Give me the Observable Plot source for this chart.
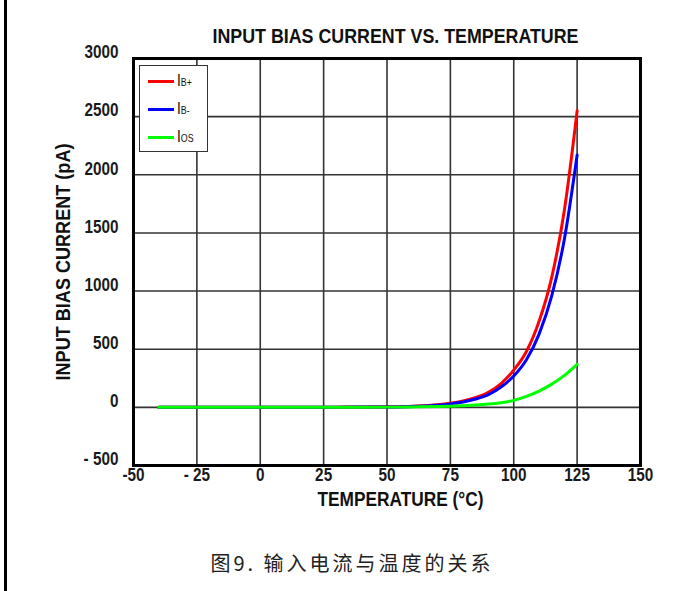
<!DOCTYPE html>
<html>
<head>
<meta charset="utf-8">
<script src="https://cdn.jsdelivr.net/npm/d3@7"></script>
<script src="https://cdn.jsdelivr.net/npm/@observablehq/plot@0.6"></script>
<style>
  html, body { margin: 0; padding: 0; background: #fff; }
  #wrap { position: relative; width: 694px; height: 591px; overflow: hidden; background: #fff; }
  #leftRule { position: absolute; left: 4px; top: 0; width: 3px; height: 591px; background: #000; }
  #chart { position: absolute; left: 0; top: 0; }
  #legend { position: absolute; left: 139px; top: 65px; width: 67px; height: 85px; border: 1.5px solid #333; background: #fff;
            font-family: 'Liberation Sans', Arial, sans-serif; color: #111; }
  .lrow { position: absolute; left: 0; height: 20px; width: 67px; }
  .lline { position: absolute; left: 8px; width: 26px; height: 3px; top: 9px; }
  .ltext { position: absolute; left: 37px; top: 0; font-size: 17px; line-height: 20px; white-space: nowrap;
           transform: scaleX(0.8); transform-origin: left center; }
  .ltext span { font-size: 11px; }
  #caption { position: absolute; left: 0; width: 704px; top: 548px; text-align: center;
             font-family: 'Noto Sans CJK SC', sans-serif; font-size: 20px; letter-spacing: 3px; color: #222; }
</style>
</head>
<body>
<div id="wrap">
  <div id="leftRule"></div>
  <div id="chart"></div>
  <div id="legend"></div>
  <div id="caption"></div>
</div>
<script>
// ---- data ----
const title = "INPUT BIAS CURRENT VS. TEMPERATURE";
const xLabel = "TEMPERATURE (°C)";
const yLabel = "INPUT BIAS CURRENT (pA)";
const captionText = "图9. 输入电流与温度的关系";

const temps   = [-40, -30, -20, -10, 0, 10, 20, 30, 40, 50, 60, 70, 75, 80, 85, 90, 95, 100, 105, 110, 115, 120, 125];
const ibPlus  = [0, 0, 0, 0, 0, 1, 1, 2, 3, 5, 10, 22, 35, 55, 85, 130, 205, 320, 480, 740, 1120, 1700, 2550];
const ibMinus = [0, 0, 0, 0, 0, 1, 1, 2, 3, 4, 8, 19, 30, 46, 72, 110, 175, 270, 410, 630, 960, 1450, 2170];
const iOS     = [0, 0, 0, 0, 0, 0, 0, 1, 1, 2, 4, 7, 10, 14, 20, 28, 40, 60, 95, 140, 200, 275, 370];

const seriesMain = ["I", "I", "I"];
const seriesSub  = ["B+", "B-", "OS"];
const seriesColors = ["#ff0000", "#0000ff", "#00ff00"];
const seriesValues = [ibPlus, ibMinus, iOS];

const xTicks = [-50, -25, 0, 25, 50, 75, 100, 125, 150];
const xTickLabels = ["-50", "- 25", "0", "25", "50", "75", "100", "125", "150"];
const yTicks = [-500, 0, 500, 1000, 1500, 2000, 2500, 3000];
const yTickLabels = ["- 500", "0", "500", "1000", "1500", "2000", "2500", "3000"];

// ---- build ----
const font = "'Liberation Sans', Arial, sans-serif";
const lineMarks = seriesValues.map((vals, i) =>
  Plot.line(temps.map((t, j) => ({t, v: vals[j]})), {
    x: "t", y: "v", stroke: seriesColors[i], strokeWidth: 3, curve: "monotone-x"
  })
);

const chart = Plot.plot({
  width: 694,
  height: 530,
  marginTop: 58,
  marginLeft: 133,
  marginRight: 54,
  marginBottom: 65,
  x: {domain: [-50, 150], label: null},
  y: {domain: [-500, 3000], label: null},
  style: {fontFamily: font, background: "transparent", color: "#1a1a1a"},
  marks: [
    Plot.gridX(xTicks, {stroke: "#333", strokeOpacity: 1, strokeWidth: 1.6}),
    Plot.gridY(yTicks, {stroke: "#333", strokeOpacity: 1, strokeWidth: 1.6}),
    ...lineMarks,
    Plot.frame({stroke: "#000", strokeWidth: 3}),
    Plot.axisX(xTicks, {tickSize: 0, tickPadding: 3, fontSize: 18, fontWeight: "bold", label: null,
      tickFormat: d => xTickLabels[xTicks.indexOf(d)]}),
    Plot.axisY(yTicks, {tickSize: 0, tickPadding: 15, dy: -6, fontSize: 18, fontWeight: "bold", label: null,
      tickFormat: d => yTickLabels[yTicks.indexOf(d)]}),
    Plot.text([title], {text: d => d, frameAnchor: "top", dx: 8.5, dy: -30.5, fontSize: 21, fontWeight: "bold", fill: "#111", className: "ttl"}),
    Plot.text([xLabel], {text: d => d, frameAnchor: "bottom", dx: 13.5, dy: 40, fontSize: 19.5, fontWeight: "bold", fill: "#111", className: "xl"}),
    Plot.text([yLabel], {text: d => d, frameAnchor: "left", textAnchor: "middle", dx: -70, rotate: -90, fontSize: 20, fontWeight: "bold", fill: "#111", className: "yl"})
  ]
});
document.getElementById("chart").appendChild(chart);

// condense text to emulate a narrow bold face
const exact = {ttl: 366, xl: 166, yl: 237};
chart.querySelectorAll("text").forEach(t => {
  const g = t.closest("g");
  let target = null;
  for (const k in exact) if (g && g.classList.contains(k)) target = exact[k];
  const len = t.getComputedTextLength();
  if (target == null) target = len * 0.85;
  t.setAttribute("textLength", target);
  t.setAttribute("lengthAdjust", "spacingAndGlyphs");
});

// legend
const legend = document.getElementById("legend");
seriesMain.forEach((m, i) => {
  const row = document.createElement("div");
  row.className = "lrow";
  row.style.top = (5 + i * 28) + "px";
  const ln = document.createElement("div");
  ln.className = "lline";
  ln.style.background = seriesColors[i];
  const tx = document.createElement("div");
  tx.className = "ltext";
  tx.innerHTML = m + "<span>" + seriesSub[i] + "</span>";
  row.appendChild(ln); row.appendChild(tx);
  legend.appendChild(row);
});
document.getElementById("caption").textContent = captionText;
</script>
</body>
</html>
